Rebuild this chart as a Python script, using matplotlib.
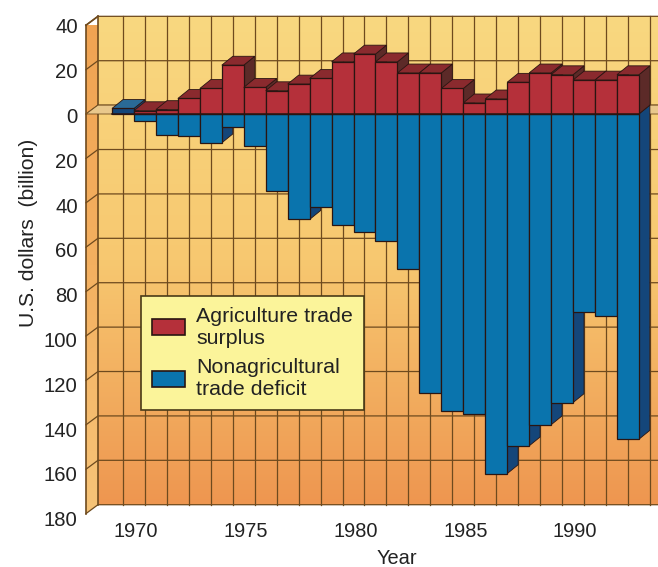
import numpy as np
import matplotlib
matplotlib.use("Agg")
import matplotlib.pyplot as plt
from matplotlib.patches import Polygon, Patch
from matplotlib.colors import LinearSegmentedColormap

plt.rcParams["font.family"] = ["Liberation Sans", "DejaVu Sans"]

years = list(range(1970, 1994))
surplus = [0, 1.5, 2, 7, 11.5, 22, 12, 10.5, 13.5, 16, 23.5, 27,
           23.5, 18.5, 18.5, 11.5, 5, 6.8, 14.3, 18.5, 17.7, 15.3, 15.3, 17.7]
deficit = [2.5, -3, -9.5, -10, -13, -6, -14.5, -34.5, -47.5, -42, -50, -53,
           -57, -70, -125.5, -134, -135, -162, -149.5, -140, -130, -89, -91, -146.5]
y_ticks = list(range(-180, 41, 20))
x_ticks = [1970, 1975, 1980, 1985, 1990]

# depth of the fake 3D view, in data units
DX = 0.5
DY = 4.0
W = 658
H = 567
# axes run a bit below -180 so the lowest label, printed low, still gets drawn
YMIN = -184
YMAX = 40
AX_BOTTOM = 522.48

RED = ("#b5303a", "#8a2a2e", "#5c2a28")
BLUE = ("#0a74ad", "#2a6a96", "#14467a")
EDGE = "#2a1512"
GRID = "#6e4a1e"

fig = plt.figure(figsize=(W / 100, H / 100), dpi=100, facecolor="white")
ax = fig.add_axes([86 / W, 1 - AX_BOTTOM / H, 572 / W, (AX_BOTTOM - 25.2) / H])
ax.set_xlim(1968.314, 1994.37)
ax.set_ylim(YMIN, YMAX)
for s in ax.spines.values():
    s.set_visible(False)
ax.patch.set_visible(False)

x0, x1 = ax.get_xlim()
wall_left = x0 + DX * 1.09

# back wall
back_cmap = LinearSegmentedColormap.from_list("back", ["#f9d880", "#f7c870", "#ee9650"])
ax.imshow(np.linspace(0, 1, 256).reshape(-1, 1), cmap=back_cmap, aspect="auto", zorder=1,
          extent=(wall_left, x1 + 1, -180 + DY, 40 + DY), clip_on=False)

# side wall
side_cmap = LinearSegmentedColormap.from_list("side", ["#f0a352", "#f4b060", "#f7c478"])
side_img = ax.imshow(np.linspace(0, 1, 256).reshape(-1, 1), cmap=side_cmap, aspect="auto", zorder=1,
                     extent=(x0, wall_left, -180, 40 + DY))
side_poly = Polygon([(x0, 40), (wall_left, 40 + DY), (wall_left, -180 + DY), (x0, -180)],
                    closed=True, transform=ax.transData)
side_img.set_clip_path(side_poly)
ax.set_xlim(x0, x1)
ax.set_ylim(YMIN, YMAX)

# grid on the walls
for yr in range(1970, 1995):
    ax.plot([yr, yr], [-180 + DY, 40 + DY], color=GRID, lw=0.9, zorder=2, clip_on=False)
for v in y_ticks:
    ax.plot([x0, wall_left, x1 + 1], [v, v + DY, v + DY], color=GRID, lw=0.9, zorder=2, clip_on=False)
ax.plot([x0, x0], [-180, 40], color=GRID, lw=1.2, zorder=2, clip_on=False)
ax.plot([x0, wall_left], [40, 40 + DY], color=GRID, lw=1.2, zorder=2, clip_on=False)
ax.plot([wall_left, wall_left], [-180 + DY, 40 + DY], color=GRID, lw=1.2, zorder=2, clip_on=False)

# zero plane
ax.add_patch(Polygon([(x0, 0), (wall_left, DY), (x1 + 1, DY), (x1 + 1, 0)], closed=True,
                     facecolor="#e9c88c", edgecolor=GRID, lw=0.6, zorder=3, clip_on=False))


def draw_bar(ax, x, v, colors, z):
    # side and top faces, then the front, from the value down to zero
    front, top, side = colors
    left, right = x - 0.5, x + 0.5
    hi = max(v, 0)
    lo = min(v, 0)
    ax.add_patch(Polygon([(right, lo), (right + DX, lo + DY), (right + DX, hi + DY), (right, hi)],
                         closed=True, facecolor=side, edgecolor=EDGE, lw=0.6, zorder=z))
    if v > 0:
        ax.add_patch(Polygon([(left, v), (left + DX, v + DY), (right + DX, v + DY), (right, v)],
                             closed=True, facecolor=top, edgecolor=EDGE, lw=0.6, zorder=z))
    ax.bar(x, v, width=1, color=front, edgecolor=EDGE, lw=0.9, zorder=z + 0.1)


z = 4
for yr, d, s in zip(years, deficit, surplus):
    draw_bar(ax, yr, d, BLUE if d < 0 else (BLUE[2], BLUE[1], BLUE[2]), z)
    if s > 0:
        draw_bar(ax, yr, s, RED, z + 0.2)
    z += 1

ax.plot([1969.5, 1993.5], [0, 0], color=EDGE, lw=1.1, zorder=z)

# the printed labels run a little wider than the grid
ax.set_yticks([v * 1.009 - 0.7 for v in y_ticks])
ax.set_yticklabels([str(abs(v)) for v in y_ticks], fontsize=14.6, color="#222222")
ax.set_xticks([yr + 0.6 for yr in x_ticks])
ax.set_xticklabels([str(yr) for yr in x_ticks], fontsize=14.4, color="#222222")
ax.set_xlim(x0, x1)
ax.set_ylim(YMIN, YMAX)
ax.tick_params(axis="y", length=0, pad=6)
ax.tick_params(axis="x", length=0, pad=-0.5)
ax.set_ylabel("U.S. dollars  (billion)", fontsize=15.2, color="#222222", labelpad=4, y=0.583)
ax.set_xlabel("Year", fontsize=14.4, color="#222222", labelpad=6, x=0.544)

handles = [Patch(facecolor=RED[0], edgecolor=EDGE, lw=1.2), Patch(facecolor=BLUE[0], edgecolor=EDGE, lw=1.2)]
leg = ax.legend(handles, ["Agriculture trade\nsurplus", "Nonagricultural\ntrade deficit"],
                loc="upper left", bbox_to_anchor=((141 - 86) / 572, (AX_BOTTOM - 296) / (AX_BOTTOM - 25.2)),
                fontsize=15.4, fancybox=False, framealpha=1, facecolor="#fbf49a", edgecolor="#4a3a18",
                borderaxespad=0, borderpad=0.5, handlelength=1.55, handleheight=0.8,
                handletextpad=0.52, labelspacing=0.5, labelcolor="#222222")
leg.get_frame().set_linewidth(1.2)
leg.set_zorder(z + 1)
for t in leg.get_texts():
    t.set_linespacing(1.2)

fig.savefig("out.png", dpi=100, facecolor="white")
